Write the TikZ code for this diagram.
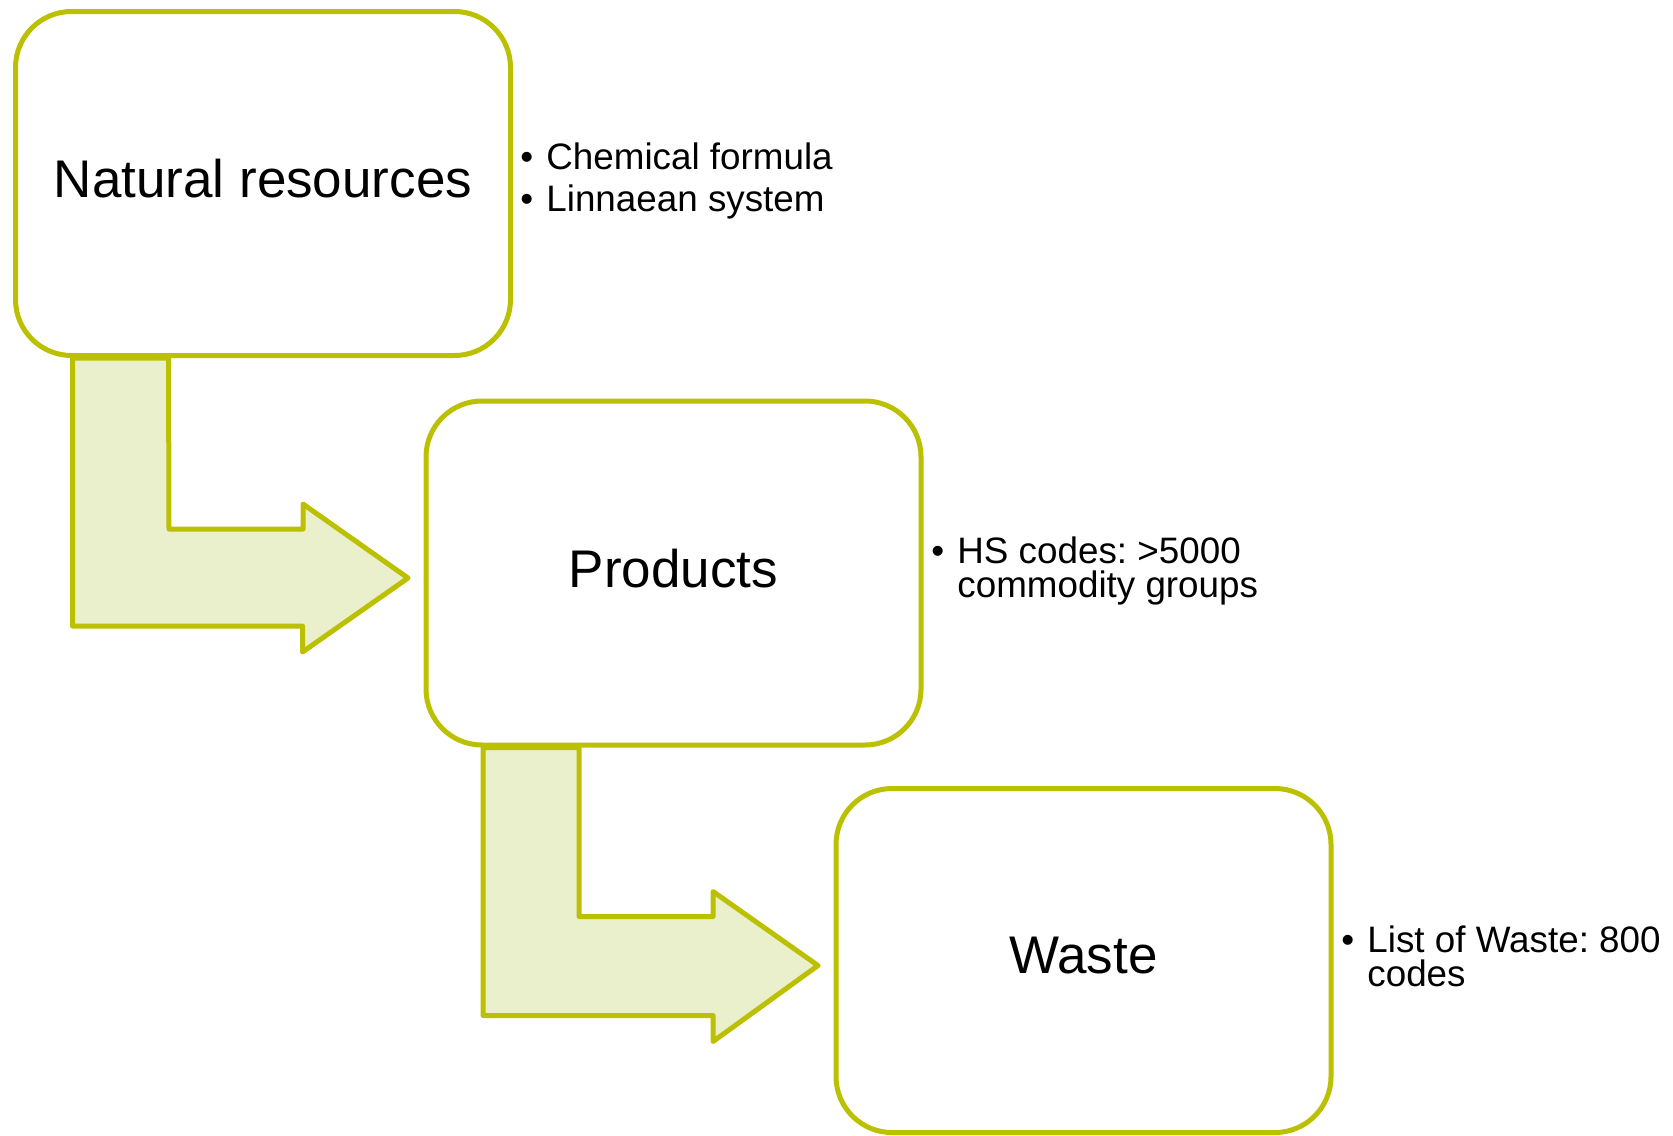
\documentclass[tikz,border=0pt]{standalone}
\usepackage{fontspec}
\setmainfont{Liberation Sans}
\frenchspacing
\usetikzlibrary{calc,backgrounds}
\definecolor{leaf}{RGB}{187,192,0}
\definecolor{leaflight}{RGB}{234,239,204}
\newcommand\itemdot{\makebox[13pt][l]{\textbullet}}
\begin{document}
\begin{tikzpicture}[x=0.5pt,y=-0.5pt,
  stagebox/.style={draw=leaf, line width=2.5pt, fill=white, rounded corners=28pt,
    minimum width=247.5pt, minimum height=172pt, inner sep=0pt, text depth=5pt,
    font=\fontsize{26.5}{32}\selectfont},
  bendarrow/.style={draw=leaf, fill=leaflight, line width=2.5pt, line join=round},
  note/.style={anchor=base west, inner sep=0pt, font=\fontsize{18.4}{22}\selectfont}]
\useasboundingbox (0,0) rectangle (1673,1135);

% the three stages
\node[stagebox] (nat)  at (263,183.5)  {Natural resources};
\node[stagebox] (prod) at (673.5,573)  {Products};
\node[stagebox] (waste) at (1083.5,960.5) {Waste};

% bent arrows leading from one stage to the next
\begin{scope}[on background layer]
  \draw[bendarrow] ($(nat.south west)+(59.5,0)$) -- ++(0,268) -- ++(230,0) -- ++(0,26)
    -- ($(prod.west)+(-15.5,5)$) -- ++(-105,-74) -- ++(0,25) -- ++(-134,0)
    -- ($(nat.south west)+(155.5,0)$) -- cycle;
  \draw[bendarrow] ($(prod.south west)+(59.5,0)$) -- ++(0,268) -- ++(230,0) -- ++(0,26)
    -- ($(waste.west)+(-15.5,5)$) -- ++(-105,-74) -- ++(0,25) -- ++(-134,0)
    -- ($(prod.south west)+(155.5,0)$) -- cycle;
\end{scope}

% classification systems for each stage
\node[note] (nat-a) at (520,169) {\itemdot Chemical formula};
\node[note] (nat-b) at (520,211) {\itemdot Linnaean system};
\node[note] (prod-a) at (931,563) {\itemdot HS codes: >5000};
\node[note] (prod-b) at (957,597) {commodity groups};
\node[note] (waste-a) at (1341,952) {\itemdot List of Waste: 800};
\node[note] (waste-b) at (1367,986) {codes};
\end{tikzpicture}
\end{document}
